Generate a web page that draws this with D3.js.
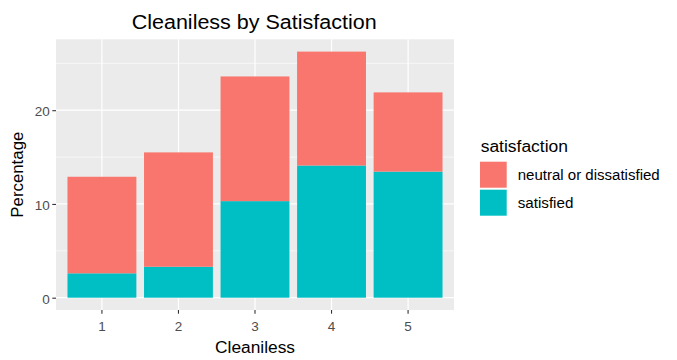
<!DOCTYPE html>
<html>
<head>
<meta charset="utf-8">
<script src="https://cdn.jsdelivr.net/npm/d3@7"></script>
<style>
  html, body { margin: 0; padding: 0; background: #ffffff; }
  svg { display: block; font-family: "Liberation Sans", Arial, sans-serif; }
</style>
</head>
<body>
<svg id="chart" width="677" height="360"></svg>
<script>
// Cleanliness rating categories
const categories = ["1", "2", "3", "4", "5"];
// Percentage of passengers in each satisfaction group
const satisfied = [2.6, 3.3, 10.3, 14.1, 13.45];
const neutralOrDissatisfied = [10.3, 12.2, 13.3, 12.15, 8.45];
// Legend entries (top to bottom) and their fills
const groups = ["neutral or dissatisfied", "satisfied"];
const groupColors = ["#F8766D", "#00BFC4"];
const yTicks = [0, 10, 20];
const yMinorTicks = [5, 15, 25];

const svg = d3.select("#chart");
const panel = { left: 56, right: 454, top: 39.3, bottom: 310 };

// stacked table: satisfied at the bottom, neutral/dissatisfied on top
const table = categories.map((c, i) => ({
  category: c,
  "satisfied": satisfied[i],
  "neutral or dissatisfied": neutralOrDissatisfied[i]
}));
const stack = d3.stack().keys(["satisfied", "neutral or dissatisfied"]);
const series = stack(table);
const color = d3.scaleOrdinal().domain(groups).range(groupColors);

const maxTotal = d3.max(series[series.length - 1], d => d[1]);
const pad = maxTotal * 0.05;

const x = d3.scaleBand()
  .domain(categories)
  .range([panel.left, panel.right])
  .paddingInner(0.1)
  .paddingOuter(0.15);

const y = d3.scaleLinear()
  .domain([-pad, maxTotal + pad])
  .range([panel.bottom, panel.top]);

// panel background
svg.append("rect")
  .attr("x", panel.left).attr("y", panel.top)
  .attr("width", panel.right - panel.left)
  .attr("height", panel.bottom - panel.top)
  .attr("fill", "#EBEBEB");

// grid lines
const grid = svg.append("g");
grid.selectAll(".minor").data(yMinorTicks).join("line")
  .attr("x1", panel.left).attr("x2", panel.right)
  .attr("y1", d => y(d)).attr("y2", d => y(d))
  .attr("stroke", "#ffffff").attr("stroke-width", 0.6);
grid.selectAll(".major").data(yTicks).join("line")
  .attr("x1", panel.left).attr("x2", panel.right)
  .attr("y1", d => y(d)).attr("y2", d => y(d))
  .attr("stroke", "#ffffff").attr("stroke-width", 1.2);
grid.selectAll(".vmajor").data(categories).join("line")
  .attr("x1", d => x(d) + x.bandwidth() / 2).attr("x2", d => x(d) + x.bandwidth() / 2)
  .attr("y1", panel.top).attr("y2", panel.bottom)
  .attr("stroke", "#ffffff").attr("stroke-width", 1.2);

// stacked bars
svg.append("g").selectAll("g").data(series).join("g")
  .attr("fill", d => color(d.key))
  .selectAll("rect").data(d => d).join("rect")
  .attr("x", d => x(d.data.category))
  .attr("width", x.bandwidth())
  .attr("y", d => y(d[1]))
  .attr("height", d => y(d[0]) - y(d[1]));

// axes
const yAxis = svg.append("g")
  .attr("transform", `translate(${panel.left},0)`)
  .call(d3.axisLeft(y).tickValues(yTicks).tickSize(3.7).tickPadding(2.5));
const xAxis = svg.append("g")
  .attr("transform", `translate(0,${panel.bottom})`)
  .call(d3.axisBottom(x).tickSize(3.7).tickPadding(4));
[yAxis, xAxis].forEach(a => {
  a.select(".domain").remove();
  a.selectAll(".tick line").attr("stroke", "#333333").attr("stroke-width", 1.1);
  a.selectAll(".tick text")
    .attr("fill", "#4D4D4D")
    .style("font-size", "13.5px")
    .style("font-family", "\"Liberation Sans\", Arial, sans-serif");
});
yAxis.selectAll(".tick text").attr("dy", "0.42em");
xAxis.selectAll(".tick text").attr("dy", "0.95em");

function label(txt, attrs) {
  const t = svg.append("text").text(txt);
  Object.entries(attrs).forEach(([k, v]) => t.attr(k, v));
  return t;
}

// title
label("Cleaniless by Satisfaction", {
  x: 254.2, y: 28.5, "text-anchor": "middle", "font-size": 19.5,
  fill: "#000000", textLength: 245, lengthAdjust: "spacingAndGlyphs"
});

// axis titles
label("Cleaniless", {
  x: 255, y: 353, "text-anchor": "middle", "font-size": 16,
  fill: "#000000", textLength: 80, lengthAdjust: "spacingAndGlyphs"
});
label("Percentage", {
  x: 0, y: 0, "text-anchor": "middle", "font-size": 16,
  fill: "#000000", textLength: 86, lengthAdjust: "spacingAndGlyphs",
  transform: `translate(22.5,${(panel.top + panel.bottom) / 2}) rotate(-90)`
});

// legend
const legend = svg.append("g");
label("satisfaction", {
  x: 480.7, y: 151.7, "font-size": 16, fill: "#000000",
  textLength: 87.3, lengthAdjust: "spacingAndGlyphs"
});
const keyX = 480, keyTop = 161.7, keyStep = 28, keySize = 26.7;
const labelLengths = { "neutral or dissatisfied": 142, "satisfied": 55.7 };
groups.forEach((g, i) => {
  legend.append("rect")
    .attr("x", keyX).attr("y", keyTop + i * keyStep)
    .attr("width", keySize).attr("height", keySize - 0.7)
    .attr("fill", color(g));
  legend.append("text")
    .attr("x", 517.7)
    .attr("y", keyTop + i * keyStep + keySize / 2)
    .attr("dy", "0.36em")
    .attr("font-size", 14)
    .attr("fill", "#000000")
    .attr("textLength", labelLengths[g])
    .attr("lengthAdjust", "spacingAndGlyphs")
    .text(g);
});
</script>
</body>
</html>
